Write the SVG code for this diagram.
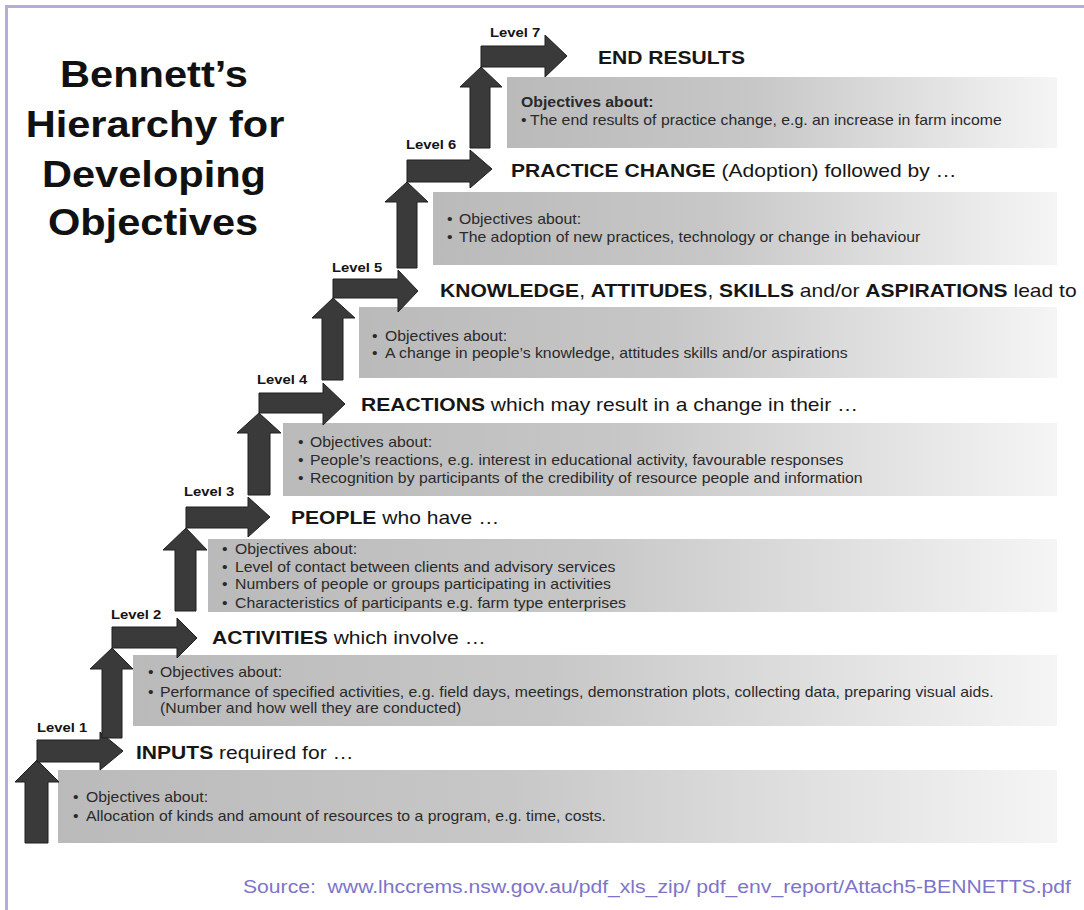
<svg xmlns="http://www.w3.org/2000/svg" width="1084" height="910" viewBox="0 0 1084 910">
<defs>
<linearGradient id="boxfill" x1="0" y1="0" x2="1" y2="0">
<stop offset="0" stop-color="#bababa"/>
<stop offset="0.45" stop-color="#c7c7c7"/>
<stop offset="0.8" stop-color="#e4e4e4"/>
<stop offset="1" stop-color="#f5f5f5"/>
</linearGradient>
</defs>
<style>
.box{fill:url(#boxfill)}
.arr{fill:#3a3a3a;stroke:#1f1f1f;stroke-width:1;stroke-linejoin:miter}
.title{font-family:"Liberation Sans",Arial,sans-serif;font-weight:bold;font-size:36px;fill:#111;text-anchor:middle}
.head{font-family:"Liberation Sans",Arial,sans-serif;font-size:18px;fill:#161616}
.b{font-weight:bold}
.lvl{font-family:"Liberation Sans",Arial,sans-serif;font-weight:bold;font-size:13px;fill:#151515}
.body{font-family:"Liberation Sans",Arial,sans-serif;font-size:14px;fill:#2a2a2a}
.src{font-family:"Liberation Sans",Arial,sans-serif;font-size:18px;fill:#7d74c9}
</style>
<rect x="0" y="0" width="1084" height="910" fill="#ffffff"/>
<g id="frame">
<rect x="5" y="5" width="1079" height="3" fill="#b3acdf"/>
<rect x="5" y="5" width="3" height="905" fill="#b3acdf"/>
</g>
<g id="title">
<text class="title" transform="translate(154,87) scale(1.155,1)">Bennett’s</text>
<text class="title" transform="translate(155,137) scale(1.155,1)">Hierarchy for</text>
<text class="title" transform="translate(154,187) scale(1.155,1)">Developing</text>
<text class="title" transform="translate(153,235) scale(1.155,1)">Objectives</text>
</g>
<g id="level1">
<rect class="box" x="58" y="770" width="999" height="73"/>
<text class="head" transform="translate(136,759) scale(1.17,1)"><tspan class="b">INPUTS</tspan> required for …</text>
<text class="body" transform="translate(73,802) scale(1.13,1)">•</text>
<text class="body" transform="translate(86,802) scale(1.13,1)">Objectives about:</text>
<text class="body" transform="translate(73,821) scale(1.13,1)">•</text>
<text class="body" transform="translate(86,821) scale(1.13,1)">Allocation of kinds and amount of resources to a program, e.g. time, costs.</text>
</g>
<g id="level2">
<rect class="box" x="133" y="655" width="924" height="71"/>
<text class="head" transform="translate(212,644) scale(1.17,1)"><tspan class="b">ACTIVITIES</tspan> which involve …</text>
<text class="body" transform="translate(148,677) scale(1.13,1)">•</text>
<text class="body" transform="translate(160,677) scale(1.13,1)">Objectives about:</text>
<text class="body" transform="translate(148,697) scale(1.13,1)">•</text>
<text class="body" transform="translate(160,697) scale(1.13,1)">Performance of specified activities, e.g. field days, meetings, demonstration plots, collecting data, preparing visual aids.</text>
<text class="body" transform="translate(160,713) scale(1.13,1)">(Number and how well they are conducted)</text>
</g>
<g id="level3">
<rect class="box" x="208" y="539" width="849" height="73"/>
<text class="head" transform="translate(291,524) scale(1.17,1)"><tspan class="b">PEOPLE</tspan> who have …</text>
<text class="body" transform="translate(222,554) scale(1.13,1)">•</text>
<text class="body" transform="translate(235,554) scale(1.13,1)">Objectives about:</text>
<text class="body" transform="translate(222,572) scale(1.13,1)">•</text>
<text class="body" transform="translate(235,572) scale(1.13,1)">Level of contact between clients and advisory services</text>
<text class="body" transform="translate(222,589) scale(1.13,1)">•</text>
<text class="body" transform="translate(235,589) scale(1.13,1)">Numbers of people or groups participating in activities</text>
<text class="body" transform="translate(222,608) scale(1.13,1)">•</text>
<text class="body" transform="translate(235,608) scale(1.13,1)">Characteristics of participants e.g. farm type enterprises</text>
</g>
<g id="level4">
<rect class="box" x="283" y="423" width="774" height="73"/>
<text class="head" transform="translate(361,411) scale(1.17,1)"><tspan class="b">REACTIONS</tspan> which may result in a change in their …</text>
<text class="body" transform="translate(298,447) scale(1.13,1)">•</text>
<text class="body" transform="translate(310,447) scale(1.13,1)">Objectives about:</text>
<text class="body" transform="translate(298,465) scale(1.13,1)">•</text>
<text class="body" transform="translate(310,465) scale(1.13,1)">People’s reactions, e.g. interest in educational activity, favourable responses</text>
<text class="body" transform="translate(298,483) scale(1.13,1)">•</text>
<text class="body" transform="translate(310,483) scale(1.13,1)">Recognition by participants of the credibility of resource people and information</text>
</g>
<g id="level5">
<rect class="box" x="359" y="307" width="698" height="71"/>
<text class="head" transform="translate(440,297) scale(1.17,1)"><tspan class="b">KNOWLEDGE</tspan>, <tspan class="b">ATTITUDES</tspan>, <tspan class="b">SKILLS</tspan> and/or <tspan class="b">ASPIRATIONS</tspan> lead to</text>
<text class="body" transform="translate(372,341) scale(1.13,1)">•</text>
<text class="body" transform="translate(385,341) scale(1.13,1)">Objectives about:</text>
<text class="body" transform="translate(372,358) scale(1.13,1)">•</text>
<text class="body" transform="translate(385,358) scale(1.13,1)">A change in people’s knowledge, attitudes skills and/or aspirations</text>
</g>
<g id="level6">
<rect class="box" x="433" y="192" width="624" height="73"/>
<text class="head" transform="translate(511,177) scale(1.17,1)"><tspan class="b">PRACTICE CHANGE</tspan> (Adoption) followed by …</text>
<text class="body" transform="translate(447,224) scale(1.13,1)">•</text>
<text class="body" transform="translate(459,224) scale(1.13,1)">Objectives about:</text>
<text class="body" transform="translate(447,242) scale(1.13,1)">•</text>
<text class="body" transform="translate(459,242) scale(1.13,1)">The adoption of new practices, technology or change in behaviour</text>
</g>
<g id="level7">
<rect class="box" x="507" y="77" width="550" height="71"/>
<text class="head b" transform="translate(598,64) scale(1.17,1)">END RESULTS</text>
<text class="body b" transform="translate(521,107) scale(1.13,1)">Objectives about:</text>
<text class="body" transform="translate(521,125) scale(1.13,1)">•</text>
<text class="body" transform="translate(530,125) scale(1.13,1)">The end results of practice change, e.g. an increase in farm income</text>
</g>
<g id="connectors">
<polygon class="arr" points="25,843 48,843 48,782 59,782 37,760 15,782 25,782"/>
<polygon class="arr" points="37,740 100,740 100,732 123,751 100,770 100,762 37,762"/>
<polygon class="arr" points="102,738 122,738 122,669 133,669 112,648 90,669 102,669"/>
<polygon class="arr" points="112,627 177,627 177,618 197,638 177,658 177,648 112,648"/>
<polygon class="arr" points="175,611 196,611 196,550 207,550 186,528 163,550 175,550"/>
<polygon class="arr" points="186,507 248,507 248,497 270,517 248,537 248,528 186,528"/>
<polygon class="arr" points="248,495 270,495 270,433 281,433 259,413 237,433 248,433"/>
<polygon class="arr" points="259,393 323,393 323,383 345,404 323,425 323,413 259,413"/>
<polygon class="arr" points="322,380 343,380 343,318 355,318 333,298 312,318 322,318"/>
<polygon class="arr" points="333,279 398,279 398,270 418,291 398,312 398,298 333,298"/>
<polygon class="arr" points="397,268 417,268 417,202 428,202 407,182 385,202 397,202"/>
<polygon class="arr" points="407,160 470,160 470,150 492,169 470,188 470,182 407,182"/>
<polygon class="arr" points="470,148 490,148 490,87 502,87 481,67 460,87 470,87"/>
<polygon class="arr" points="481,46 545,46 545,35 567,56 545,77 545,67 481,67"/>
</g>
<g id="labels">
<text class="lvl" transform="translate(37,732) scale(1.14,1)">Level 1</text>
<text class="lvl" transform="translate(111,619) scale(1.14,1)">Level 2</text>
<text class="lvl" transform="translate(184,496) scale(1.14,1)">Level 3</text>
<text class="lvl" transform="translate(257,384) scale(1.14,1)">Level 4</text>
<text class="lvl" transform="translate(332,272) scale(1.14,1)">Level 5</text>
<text class="lvl" transform="translate(406,149) scale(1.14,1)">Level 6</text>
<text class="lvl" transform="translate(490,37) scale(1.14,1)">Level 7</text>
</g>
<text class="src" x="243" y="893" textLength="828" lengthAdjust="spacingAndGlyphs" xml:space="preserve">Source:  www.lhccrems.nsw.gov.au/pdf_xls_zip/ pdf_env_report/Attach5-BENNETTS.pdf</text>
</svg>
